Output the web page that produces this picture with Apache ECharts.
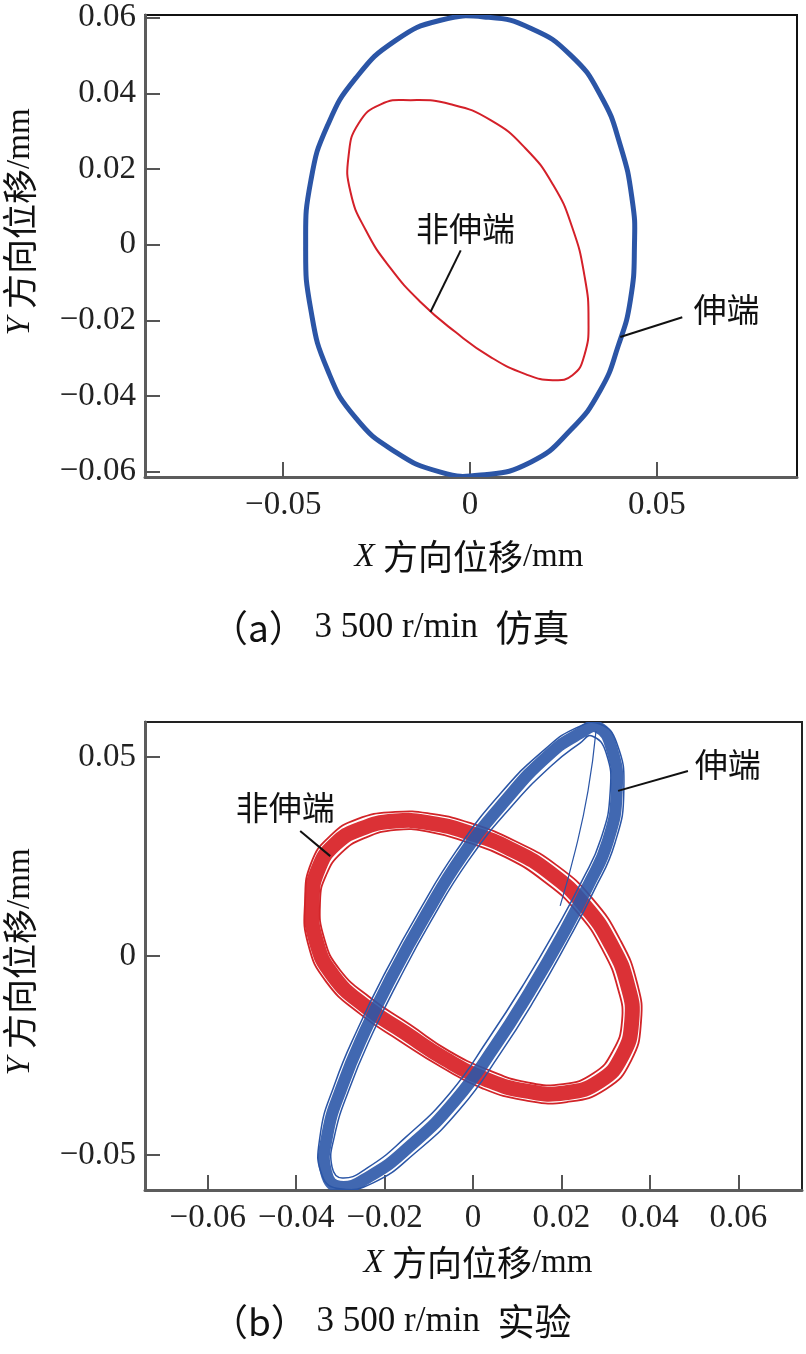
<!DOCTYPE html>
<html>
<head>
<meta charset="utf-8">
<script src="https://cdn.jsdelivr.net/npm/echarts@6/dist/echarts.min.js"></script>
<style>html,body{margin:0;padding:0;background:#fff}#c{width:806px;height:1354px}</style>
</head>
<body>
<div id="c"></div>
<script>
// ---------- data ----------
// (a) simulation, 3500 r/min
const simTicksX = [-0.05, 0, 0.05];
const simTicksY = [-0.06, -0.04, -0.02, 0, 0.02, 0.04, 0.06];
const simDriveEnd = [ // 伸端
  [0.0047,0.0601],[0.0162,0.0572],[0.0269,0.0501],[0.0349,0.0395],[0.0402,0.0263],[0.0434,0.0118],
  [0.0440,-0.0001],[0.0429,-0.0147],[0.0397,-0.0266],[0.0349,-0.0384],[0.0269,-0.0490],[0.0162,-0.0575],
  [0.0028,-0.0609],[-0.0079,-0.0601],[-0.0199,-0.0548],[-0.0306,-0.0458],[-0.0381,-0.0332],[-0.0426,-0.0173],
  [-0.0440,-0.0001],[-0.0426,0.0170],[-0.0381,0.0316],[-0.0306,0.0440],[-0.0199,0.0540],[-0.0079,0.0593]
];
const simNonDriveEnd = [ // 非伸端
  [-0.0159,0.0382],[-0.0052,0.0371],[0.0055,0.0329],[0.0148,0.0255],[0.0223,0.0157],[0.0274,0.0044],
  [0.0306,-0.0081],[0.0317,-0.0199],[0.0306,-0.0292],[0.0274,-0.0345],[0.0221,-0.0358],[0.0148,-0.0342],
  [0.0055,-0.0297],[-0.0039,-0.0231],[-0.0132,-0.0152],[-0.0213,-0.0062],[-0.0279,0.0038],[-0.0320,0.0139],
  [-0.0325,0.0236],[-0.0298,0.0321],[-0.0239,0.0371]
];
// (b) experiment, 3500 r/min — each trace is a band of many cycles: mid, outer and inner strands
const expTicksX = [-0.06, -0.04, -0.02, 0, 0.02, 0.04, 0.06];
const expTicksY = [-0.05, 0, 0.05];
const expNonDriveEndMid = [ // 非伸端
  [-0.0364,0.0138],[-0.0350,0.0219],[-0.0312,0.0281],[-0.0255,0.0319],[-0.0176,0.0339],[-0.0097,0.0334],
  [-0.0007,0.0309],[0.0084,0.0269],[0.0174,0.0209],[0.0253,0.0126],[0.0314,0.0025],[0.0350,-0.0075],
  [0.0359,-0.0163],[0.0337,-0.0251],[0.0287,-0.0314],[0.0208,-0.0344],[0.0118,-0.0339],[0.0027,-0.0309],
  [-0.0063,-0.0259],[-0.0154,-0.0193],[-0.0244,-0.0126],[-0.0316,-0.0050],[-0.0355,0.0038]
];
const expNonDriveEndOuter = [
  [-0.0380,0.0138],[-0.0366,0.0234],[-0.0323,0.0302],[-0.0262,0.0344],[-0.0176,0.0362],[-0.0093,0.0357],
  [0.0000,0.0332],[0.0095,0.0289],[0.0188,0.0229],[0.0271,0.0143],[0.0334,0.0038],[0.0371,-0.0068],
  [0.0380,-0.0163],[0.0357,-0.0264],[0.0301,-0.0334],[0.0212,-0.0367],[0.0115,-0.0362],[0.0020,-0.0332],
  [-0.0072,-0.0279],[-0.0165,-0.0214],[-0.0255,-0.0146],[-0.0332,-0.0065],[-0.0373,0.0030]
];
const expNonDriveEndInner = [
  [-0.0346,0.0138],[-0.0332,0.0204],[-0.0298,0.0259],[-0.0246,0.0296],[-0.0174,0.0317],[-0.0099,0.0312],
  [-0.0014,0.0286],[0.0072,0.0249],[0.0160,0.0188],[0.0235,0.0111],[0.0294,0.0013],[0.0328,-0.0083],
  [0.0337,-0.0163],[0.0316,-0.0239],[0.0273,-0.0294],[0.0203,-0.0322],[0.0120,-0.0317],[0.0034,-0.0286],
  [-0.0054,-0.0239],[-0.0142,-0.0173],[-0.0231,-0.0106],[-0.0301,-0.0035],[-0.0337,0.0045]
];
const expDriveEndMid = [ // 伸端
  [0.0282,0.0575],[0.0314,0.0520],[0.0325,0.0415],[0.0305,0.0289],[0.0260,0.0176],[0.0201,0.0050],
  [0.0129,-0.0088],[0.0050,-0.0226],[-0.0041,-0.0364],[-0.0142,-0.0477],[-0.0233,-0.0553],[-0.0301,-0.0580],
  [-0.0332,-0.0545],[-0.0330,-0.0452],[-0.0296,-0.0327],[-0.0244,-0.0188],[-0.0183,-0.0050],[-0.0108,0.0101],
  [-0.0025,0.0251],[0.0072,0.0389],[0.0169,0.0503],[0.0242,0.0560]
];
const expDriveEndOuter = [
  [0.0287,0.0583],[0.0325,0.0535],[0.0341,0.0415],[0.0321,0.0284],[0.0273,0.0163],[0.0212,0.0033],
  [0.0140,-0.0108],[0.0061,-0.0246],[-0.0029,-0.0384],[-0.0131,-0.0495],[-0.0226,-0.0570],[-0.0301,-0.0585],
  [-0.0341,-0.0553],[-0.0346,-0.0452],[-0.0312,-0.0319],[-0.0260,-0.0181],[-0.0197,-0.0038],[-0.0122,0.0113],
  [-0.0038,0.0264],[0.0061,0.0407],[0.0163,0.0520],[0.0237,0.0575]
];
const expDriveEndInner = [
  [0.0269,0.0553],[0.0301,0.0510],[0.0310,0.0410],[0.0289,0.0294],[0.0246,0.0188],[0.0188,0.0068],
  [0.0115,-0.0070],[0.0036,-0.0206],[-0.0052,-0.0344],[-0.0154,-0.0457],[-0.0240,-0.0533],[-0.0296,-0.0558],
  [-0.0319,-0.0530],[-0.0314,-0.0455],[-0.0280,-0.0334],[-0.0228,-0.0196],[-0.0169,-0.0063],[-0.0095,0.0088],
  [-0.0011,0.0239],[0.0084,0.0372],[0.0179,0.0480],[0.0242,0.0535]
];
const expDriveEndStrand = [[0.0278,0.0565],[0.0260,0.0415],[0.0231,0.0264],[0.0197,0.0126]];
// annotation anchors (data units)
const simNDLabel = [-0.0012, 0.0044], simNDLeader = [[-0.0025,-0.0015],[-0.0106,-0.0178]];
const simDLabel = [0.0686, -0.0170], simDLeader = [[0.0568,-0.0192],[0.0402,-0.0244]];
const expDLabel = [0.0576, 0.0482], expDLeader = [[0.0486,0.0465],[0.0328,0.0415]];
const expNDLabel = [-0.0425, 0.0374], expNDLeader = [[-0.0391,0.0314],[-0.0323,0.0251]];

// ---------- chart ----------
const FONT = '"Liberation Serif", "Noto Sans CJK SC", serif';
const CJK = '"Noto Sans CJK SC", "Liberation Serif", sans-serif';
const FS = 33;
const fmt = v => (Math.abs(v) < 1e-12 ? '0' : (v < 0 ? '\u2212' : '') + String(+Math.abs(v).toFixed(4)));

function xAx(grid, min, max, ticks) {
  return {
    gridIndex: grid, type: 'value', min: min, max: max,
    axisLine: { show: true, onZero: false, lineStyle: { color: '#5c5c5c', width: 3 } },
    axisTick: { show: true, inside: true, length: 15, customValues: ticks, lineStyle: { color: '#555', width: 2 } },
    axisLabel: { show: true, customValues: ticks, formatter: fmt, fontFamily: FONT, fontSize: FS, color: '#222', margin: 12 },
    splitLine: { show: false }
  };
}
function yAx(grid, min, max, ticks) {
  return {
    gridIndex: grid, type: 'value', min: min, max: max,
    axisLine: { show: true, onZero: false, lineStyle: { color: '#5c5c5c', width: 3 } },
    axisTick: { show: true, inside: true, length: 15, customValues: ticks, lineStyle: { color: '#555', width: 2 } },
    axisLabel: { show: true, customValues: ticks, formatter: fmt, fontFamily: FONT, fontSize: FS, color: '#222', margin: 9 },
    splitLine: { show: false }
  };
}
// a whole trace drawn as one smooth path through the points, positioned by the axes (api.coord)
function trace(name, xi, data, color, width, z, closed, opacity) {
  return {
    name: name, type: 'custom', xAxisIndex: xi, yAxisIndex: xi, data: data, z: z, silent: true, clip: true,
    renderItem: function (params, api) {
      if (params.dataIndex !== 0) return null;
      const pts = data.map(p => api.coord(p));
      return {
        type: closed ? 'polygon' : 'polyline',
        shape: { points: pts, smooth: 0.5 },
        style: { fill: 'none', stroke: color, lineWidth: width, opacity: opacity == null ? 1 : opacity, lineJoin: 'round' }
      };
    }
  };
}
function annot(xi, label, leader, text) {
  return { type: 'line', xAxisIndex: xi, yAxisIndex: xi, data: [], z: 10, silent: true,
    markLine: { silent: true, symbol: 'none', animation: false,
      lineStyle: { color: '#111', width: 2, type: 'solid' }, label: { show: false },
      data: [[{ coord: leader[0] }, { coord: leader[1] }]] },
    markPoint: { silent: true, symbol: 'circle', symbolSize: 0, animation: false,
      label: { show: true, position: 'inside', formatter: text, fontFamily: CJK, fontSize: FS, color: '#111' },
      data: [{ coord: label }] } };
}
const titleRich = {
  i: { fontStyle: 'italic', fontFamily: FONT, fontSize: FS, fill: '#111' },
  c: { fontFamily: CJK, fontSize: 35, fill: '#111' },
  l: { fontFamily: FONT, fontSize: FS, fill: '#111' }
};
const capRich = {
  c: { fontFamily: CJK, fontSize: 37, fill: '#111' },
  l: { fontFamily: FONT, fontSize: 35, fill: '#111' }
};

const chart = echarts.init(document.getElementById('c'), null, { renderer: 'canvas' });
chart.setOption({
  animation: false,
  backgroundColor: '#fff',
  grid: [
    { left: 145, top: 15, width: 652, height: 462, show: true, borderColor: '#111', borderWidth: 2, backgroundColor: 'transparent' },
    { left: 145, top: 722, width: 657, height: 468, show: true, borderColor: '#222', borderWidth: 2, backgroundColor: 'transparent' }
  ],
  xAxis: [ xAx(0, -0.087, 0.0875, simTicksX), xAx(1, -0.0742, 0.0744, expTicksX) ],
  yAxis: [ yAx(0, -0.0614, 0.0607, simTicksY), yAx(1, -0.0588, 0.0588, expTicksY) ],
  series: [
    trace('伸端', 0, simDriveEnd, '#2b55a6', 5, 3, true),
    trace('非伸端', 0, simNonDriveEnd, '#d42029', 2, 3, true),
    trace('非伸端', 1, expNonDriveEndMid, '#d9262b', 15, 2, true, 0.95),
    trace('非伸端', 1, expNonDriveEndOuter, '#d22428', 1.8, 2, true),
    trace('非伸端', 1, expNonDriveEndInner, '#d22428', 1.8, 2, true),
    trace('伸端', 1, expDriveEndMid, '#2c58a8', 12, 3, true, 0.9),
    trace('伸端', 1, expDriveEndOuter, '#2a55a6', 1.5, 3, true),
    trace('伸端', 1, expDriveEndInner, '#2a55a6', 1.5, 3, true),
    trace('伸端', 1, expDriveEndStrand, '#2a55a6', 1.2, 3, false),
    annot(0, simNDLabel, simNDLeader, '非伸端'),
    annot(0, simDLabel, simDLeader, '伸端'),
    annot(1, expDLabel, expDLeader, '伸端'),
    annot(1, expNDLabel, expNDLeader, '非伸端')
  ],
  graphic: [
    { type: 'text', x: 469, y: 557, style: { text: '{i|X}{l| }{c|方向位移}{l|/mm}', align: 'center', verticalAlign: 'middle', rich: titleRich } },
    { type: 'text', x: 20, y: 222, rotation: Math.PI / 2, style: { text: '{i|Y}{l| }{c|方向位移}{l|/mm}', align: 'center', verticalAlign: 'middle', rich: titleRich } },
    { type: 'text', x: 211, y: 628, style: { text: '{c|（a）}{l| 3 500 r/min  }{c|仿真}', align: 'left', verticalAlign: 'middle', rich: capRich } },
    { type: 'text', x: 478, y: 1263, style: { text: '{i|X}{l| }{c|方向位移}{l|/mm}', align: 'center', verticalAlign: 'middle', rich: titleRich } },
    { type: 'text', x: 20, y: 962, rotation: Math.PI / 2, style: { text: '{i|Y}{l| }{c|方向位移}{l|/mm}', align: 'center', verticalAlign: 'middle', rich: titleRich } },
    { type: 'text', x: 211, y: 1322, style: { text: '{c|（b）}{l| 3 500 r/min  }{c|实验}', align: 'left', verticalAlign: 'middle', rich: capRich } }
  ]
});
</script>
</body>
</html>
